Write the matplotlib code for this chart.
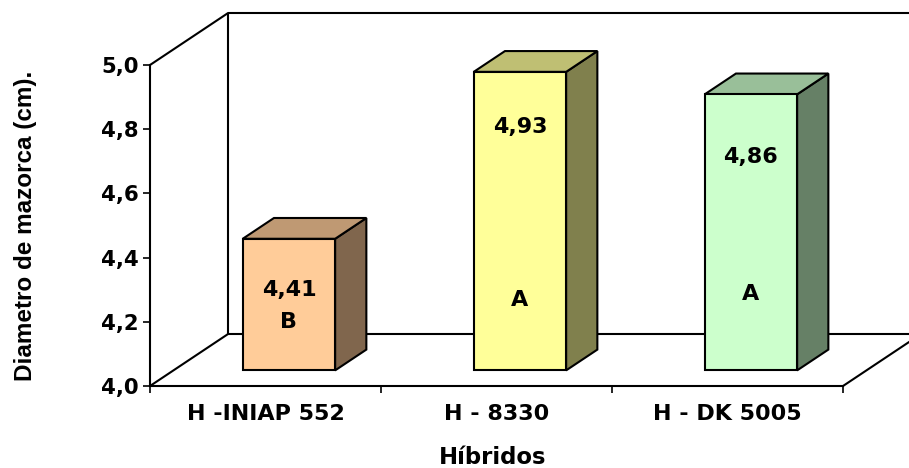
import matplotlib
matplotlib.use("Agg")
import matplotlib.pyplot as plt
from matplotlib.patches import Polygon

# ---- data ----
categories = ["H -INIAP 552", "H - 8330", "H - DK 5005"]
diametro = [4.41, 4.93, 4.86]
grupos = ["B", "A", "A"]
y_ticks = [4.0, 4.2, 4.4, 4.6, 4.8, 5.0]
y_tick_labels = ["4,0", "4,2", "4,4", "4,6", "4,8", "5,0"]

# ---- colours (front, top, side faces) ----
front_colors = ["#FFCC99", "#FFFF99", "#CCFFCC"]
top_colors = ["#BF9973", "#BFBF73", "#99BF99"]
side_colors = ["#80664D", "#80804D", "#668066"]

W, H, DPI = 909, 468, 100
fig = plt.figure(figsize=(W / DPI, H / DPI), dpi=DPI)
fig.patch.set_facecolor("white")
ax = fig.add_axes([150 / W, 1 - 386 / H, 693 / W, 321 / H])
ax.set_xlim(-0.5, 2.5)
ax.set_ylim(4.0, 5.0)
ax.patch.set_visible(False)

BOLD = dict(family="DejaVu Sans", fontweight="bold")

# oblique depth of the floor, in data units
DX, DY = 0.338, 0.162
x0, x1 = -0.5, 2.5
y0, y1 = 4.0, 5.0
LW = 1.5
line = dict(color="black", lw=LW, clip_on=False, zorder=1,
            solid_capstyle="butt")

# back wall, left wall edges and floor
ax.plot([x0, x0 + DX, x1 + DX], [y1, y1 + DY, y1 + DY], **line)
ax.plot([x0 + DX, x0 + DX], [y0 + DY, y1 + DY], **line)
ax.plot([x0, x0 + DX, x1 + DX, x1], [y0, y0 + DY, y0 + DY, y0], **line)
ax.plot([x1 + DX, x1 + DX], [y0 + DY, y1 + DY], **line)

# 3D bars: front face at 30 % of the depth, back face at 70 %
bar_w = 0.40
f0, f1 = 0.30, 0.70
edge = dict(edgecolor="black", lw=LW, clip_on=False, zorder=3,
            joinstyle="miter")
for i, v in enumerate(diametro):
    xl = i - bar_w / 2
    xr = i + bar_w / 2
    fx, fy = f0 * DX, f0 * DY
    bx, by = f1 * DX, f1 * DY
    front = [(xl + fx, y0 + fy), (xr + fx, y0 + fy),
             (xr + fx, v + fy), (xl + fx, v + fy)]
    top = [(xl + fx, v + fy), (xr + fx, v + fy),
           (xr + bx, v + by), (xl + bx, v + by)]
    side = [(xr + fx, y0 + fy), (xr + bx, y0 + by),
            (xr + bx, v + by), (xr + fx, v + fy)]
    ax.add_patch(Polygon(side, closed=True, facecolor=side_colors[i], **edge))
    ax.add_patch(Polygon(top, closed=True, facecolor=top_colors[i], **edge))
    ax.add_patch(Polygon(front, closed=True, facecolor=front_colors[i], **edge))

# labels on the bar fronts
value_label_y = [4.25, 4.757, 4.665]
group_label_y = [4.15, 4.22, 4.237]
for i, v in enumerate(diametro):
    cx = i + f0 * DX
    ax.text(cx, value_label_y[i] + f0 * DY, f"{v:.2f}".replace(".", ","),
            ha="center", va="center", fontsize=16, zorder=5, **BOLD)
    ax.text(cx, group_label_y[i] + f0 * DY, grupos[i],
            ha="center", va="center", fontsize=16, zorder=5, **BOLD)

# axes
for s in ("top", "right"):
    ax.spines[s].set_visible(False)
for s in ("left", "bottom"):
    ax.spines[s].set_linewidth(LW)
    ax.spines[s].set_zorder(2)

ax.set_yticks(y_ticks)
ax.set_yticklabels(y_tick_labels, fontsize=15.3, **BOLD)
ax.set_xticks([-0.5, 0.5, 1.5, 2.5])
ax.set_xticklabels([])
ax.set_xticks([0, 1, 2], minor=True)
ax.set_xticklabels(categories, minor=True, fontsize=16, **BOLD)
ax.tick_params(axis="y", length=5, width=1.2, pad=3)
ax.tick_params(axis="x", which="major", length=5, width=1.2)
ax.tick_params(axis="x", which="minor", length=0, pad=13)

ax.set_xlabel("Híbridos", fontsize=16.4, va="center", **BOLD)
ax.xaxis.set_label_coords(0.494, -0.224)
ax.set_ylabel("Diametro de mazorca (cm).", fontsize=17.5, va="center",
              family="Liberation Sans", fontweight="bold")
ax.yaxis.set_label_coords(-0.180, 0.5)

fig.savefig("out.png", dpi=DPI, facecolor="white")
